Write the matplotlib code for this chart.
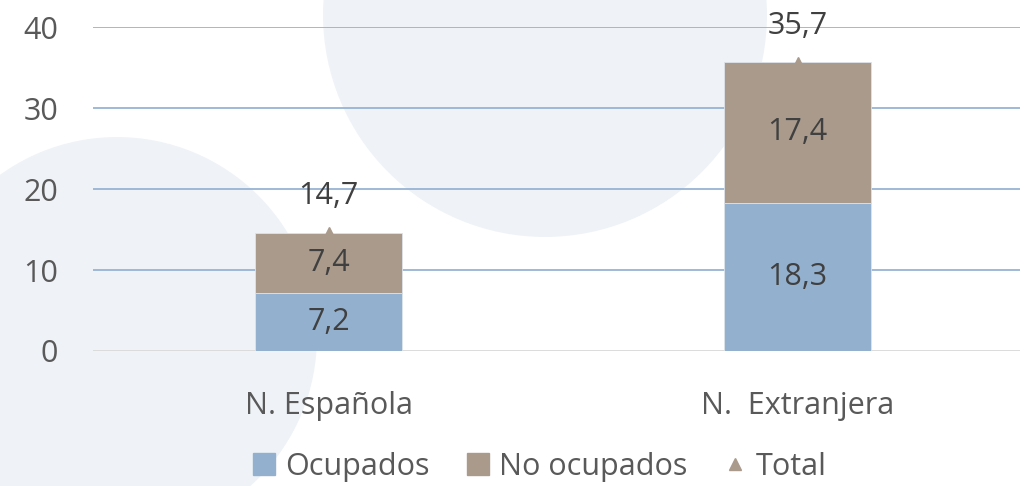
import matplotlib
matplotlib.use("Agg")
import matplotlib.pyplot as plt
from matplotlib.patches import Circle
from matplotlib.lines import Line2D
from matplotlib.patches import Patch

plt.rcParams['font.family'] = ['Open Sans', 'DejaVu Sans']

categories = ["N. Española", "N.  Extranjera"]
ocupados = [7.2, 18.3]
no_ocupados = [7.4, 17.4]
total = [14.7, 35.7]
yticks = [0, 10, 20, 30, 40]

c_ocup = "#93b1cf"
c_noocup = "#a99a8c"
c_text = "#404040"
c_tick = "#595959"

W, H = 1025, 486
fig = plt.figure(figsize=(W / 100, H / 100), dpi=100)
fig.patch.set_facecolor("white")

# decorative background circles (pixel space)
bg = fig.add_axes([0, 0, 1, 1], zorder=0)
bg.set_xlim(0, W)
bg.set_ylim(H, 0)
bg.axis("off")
bg.add_patch(Circle((545, 15), 222, color="#eff3f7", lw=0))
bg.add_patch(Circle((117, 337), 200, color="#eff3f7", lw=0))

ax = fig.add_axes([93 / W, 1 - 351 / H, (1020 - 93) / W, (351 - 27) / H], zorder=1)
ax.patch.set_alpha(0)

x = list(range(len(categories)))
bw = 0.313
ax.bar(x, ocupados, bw, color=c_ocup, edgecolor="#dde3ea", lw=0.6, zorder=3)
ax.bar(x, no_ocupados, bw, bottom=ocupados, color=c_noocup, edgecolor="#dde3ea", lw=0.6, zorder=3)
ax.plot(x, total, ls="none", marker="^", ms=7, color=c_noocup, zorder=4)

fs = 22
for i in x:
    ax.text(i, ocupados[i] / 2, f"{ocupados[i]:.1f}".replace(".", ","), ha="center", va="center",
            fontsize=fs, color=c_text, zorder=5)
    ax.text(i, ocupados[i] + no_ocupados[i] / 2, f"{no_ocupados[i]:.1f}".replace(".", ","),
            ha="center", va="center", fontsize=fs, color=c_text, zorder=5)
    ax.annotate(f"{total[i]:.1f}".replace(".", ","), (i, total[i]), xytext=(0, 15),
                textcoords="offset points", ha="center", va="bottom", fontsize=fs,
                color=c_text, zorder=5)

ax.set_xlim(-0.502, 1.474)
ax.set_ylim(0, 40)
ax.set_yticks(yticks)
ax.set_yticklabels([str(t) for t in yticks], fontsize=fs, color=c_tick)
ax.set_xticks(x)
ax.set_xticklabels(categories, fontsize=fs, color=c_tick)
ax.tick_params(length=0)
ax.tick_params(axis="y", pad=25)
ax.tick_params(axis="x", pad=29)
for s in ax.spines.values():
    s.set_visible(False)
for t in yticks[1:]:
    ax.axhline(t, color="#97b4d3", lw=1.3, zorder=1)
ax.axhline(0, color="#d9d9d9", lw=1.3, zorder=1)

handles = [Patch(color=c_ocup), Patch(color=c_noocup),
           Line2D([], [], ls="none", marker="^", ms=8, color=c_noocup)]
leg = fig.legend(handles, ["Ocupados", "No ocupados", "Total"], loc="center",
                 bbox_to_anchor=(540 / W, 1 - 467 / H), ncol=3, frameon=False,
                 fontsize=fs, handlelength=0.72, handleheight=0.72, handletextpad=0.33,
                 columnspacing=1.2, borderpad=0)
for t in leg.get_texts():
    t.set_color(c_tick)

fig.savefig("out.png", dpi=100, facecolor="white")
